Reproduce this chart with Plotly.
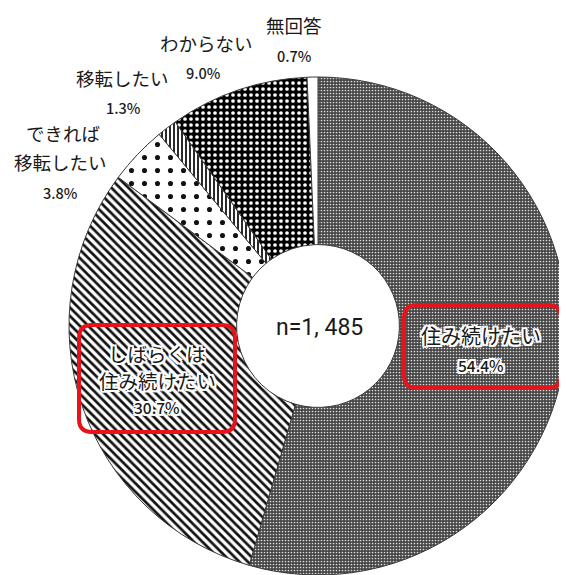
import plotly.graph_objects as go

# the page body has an 8px default margin, so the figure is placed at (8, 8)
OFF = 8
W, H = 567 - OFF, 575 - OFF

labels = ["住み続けたい", "しばらくは住み続けたい", "できれば移転したい", "移転したい", "わからない", "無回答"]
label_lines = [["住み続けたい"], ["しばらくは", "住み続けたい"], ["できれば", "移転したい"], ["移転したい"], ["わからない"], ["無回答"]]
values = [54.4, 30.7, 3.8, 1.3, 9.0, 0.7]
sample_text = "n=1, 485"

pat_shapes = [".", "\\", ".", "|", ".", ""]
pat_fg = ["#d8d8d8", "#111111", "#111111", "#111111", "#ffffff", "#000000"]
pat_bg = ["#454545", "#ffffff", "#ffffff", "#ffffff", "#000000", "#ffffff"]
pat_size = [3, 6, 13, 4, 6, 8]
pat_sol = [0.25, 0.45, 0.12, 0.45, 0.3, 0.3]

JP = "Noto Sans CJK JP"
TXT = "#1a1a1a"
HALO = ("1px 1px 0 white, -1px -1px 0 white, 1px -1px 0 white, -1px 1px 0 white, "
        "2px 0 0 white, -2px 0 0 white, 0 2px 0 white, 0 -2px 0 white, "
        "2px 2px 0 white, -2px -2px 0 white, 2px -2px 0 white, -2px 2px 0 white")


def px(x):
    return (x - OFF) / W


def py(y):
    return 1 - (y - OFF) / H


CX, CY, R = 318, 326, 249
fig = go.Figure()
fig.add_trace(go.Pie(
    labels=labels,
    values=values,
    sort=False,
    direction="clockwise",
    rotation=0,
    hole=0.327,
    textinfo="none",
    textposition="none",
    hoverinfo="label+percent",
    showlegend=False,
    marker=dict(
        colors=pat_bg,
        line=dict(color="#3a3a3a", width=1),
        pattern=dict(shape=pat_shapes, fgcolor=pat_fg, bgcolor=pat_bg,
                     size=pat_size, solidity=pat_sol, fillmode="replace"),
    ),
    domain=dict(x=[px(CX - R), min(1.0, px(CX + R))],
                y=[max(0.0, py(CY + R)), py(CY - R)]),
))

annotations = []


def add_text(x, y, text, size, halo=False, family=JP, weight=400):
    annotations.append(dict(
        x=px(x), y=py(y), xref="paper", yref="paper", text=text, showarrow=False,
        xanchor="center", yanchor="middle",
        font=dict(family=family, size=size, color=TXT, weight=weight,
                  shadow=HALO if halo else "none"),
    ))


# outside labels (top-left)
add_text(294, 25, label_lines[5][0], 18.5)
add_text(294, 55, f"{values[5]}%", 14.5, weight=500)
add_text(206, 43, label_lines[4][0], 18.5)
add_text(203, 72, f"{values[4]:.1f}%", 14.5, weight=500)
add_text(122, 78, label_lines[3][0], 18.5)
add_text(123, 107, f"{values[3]}%", 14.5, weight=500)
add_text(63, 133, label_lines[2][0], 18.5)
add_text(60, 162, label_lines[2][1], 18.5)
add_text(60, 192, f"{values[2]}%", 14.5, weight=500)

# boxed labels
add_text(157, 353, label_lines[1][0], 19.5, halo=True)
add_text(157, 380, label_lines[1][1], 19.5, halo=True)
add_text(157, 407, f"{values[1]}%", 15.5, halo=True, weight=500)
add_text(481, 335, label_lines[0][0], 20, halo=True)
add_text(481, 365, f"{values[0]}%", 15.5, halo=True, weight=500)

# center text
add_text(319, 327, sample_text, 23, family="Liberation Sans Narrow, Roboto, Noto Sans CJK JP")


def rounded_rect(x0, y0, x1, y1, r):
    pts = [
        f"M {px(x0 + r)} {py(y0)}",
        f"L {px(x1 - r)} {py(y0)}",
        f"Q {px(x1)} {py(y0)} {px(x1)} {py(y0 + r)}",
        f"L {px(x1)} {py(y1 - r)}",
        f"Q {px(x1)} {py(y1)} {px(x1 - r)} {py(y1)}",
        f"L {px(x0 + r)} {py(y1)}",
        f"Q {px(x0)} {py(y1)} {px(x0)} {py(y1 - r)}",
        f"L {px(x0)} {py(y0 + r)}",
        f"Q {px(x0)} {py(y0)} {px(x0 + r)} {py(y0)}",
        "Z",
    ]
    return " ".join(pts)


shapes = [
    dict(type="path", xref="paper", yref="paper", path=rounded_rect(79, 325, 235, 432, 13),
         line=dict(color="#e8121b", width=4)),
    dict(type="path", xref="paper", yref="paper", path=rounded_rect(404, 305, 561, 388, 13),
         line=dict(color="#e8121b", width=4)),
]

fig.update_layout(
    width=W, height=H,
    margin=dict(l=0, r=0, t=0, b=0),
    paper_bgcolor="white",
    plot_bgcolor="white",
    annotations=annotations,
    shapes=shapes,
)

fig.write_html("out.html")
